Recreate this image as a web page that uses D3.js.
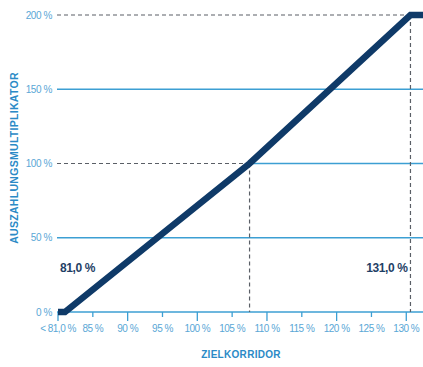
<!DOCTYPE html>
<html>
<head>
<meta charset="utf-8">
<script src="https://cdn.jsdelivr.net/npm/d3@7"></script>
<style>
body { margin: 0; background: #fff; }
svg text { font-family: "Liberation Sans", Arial, sans-serif; }
</style>
</head>
<body>
<div id="chart"></div>
<script>
// Zielkorridor (x) and Auszahlungsmultiplikator (y), knot points of the curve
var xVals = [80, 81, 107.5, 130.6, 133];
var yVals = [0, 0, 100, 200, 200];
var yTicks = [0, 50, 100, 150, 200];
var xTicks = [80, 85, 90, 95, 100, 105, 110, 115, 120, 125, 130];
var xTickLabels = ["< 81,0 %", "85 %", "90 %", "95 %", "100 %", "105 %", "110 %", "115 %", "120 %", "125 %", "130 %"];
var marks = [{x: 81, label: "81,0 %"}, {x: 130.6, label: "131,0 %"}];

var width = 423, height = 367;
var margin = {top: 15, right: 0, bottom: 55, left: 57};
var Chartwidth = width - margin.left - margin.right,
	Chartheight = height - margin.top - margin.bottom;

var blue = "#3c9fd3", navy = "#0f3a68", dash = "#5a5f66";

var svg = d3.select("#chart").append("svg")
	.attr("width", width)
	.attr("height", height);

var x = d3.scaleLinear().domain([80, 132.4]).range([1, Chartwidth]);
var y = d3.scaleLinear().domain([0, 200]).range([Chartheight, 0]);

var g = svg.append("g")
	.attr("transform", "translate(" + margin.left + "," + margin.top + ")");

var pts = xVals.map(function(d, i) { return {x: d, y: yVals[i]}; });
var knee = pts[2], peak = pts[3];

// horizontal grid lines
yTicks.forEach(function(t) {
	if (t === 100) {
		g.append("line").attr("x1", 0).attr("x2", x(knee.x)).attr("y1", y(t)).attr("y2", y(t))
			.attr("stroke", dash).attr("stroke-width", 1.2).attr("stroke-dasharray", "4,3");
		g.append("line").attr("x1", x(knee.x)).attr("x2", Chartwidth).attr("y1", y(t)).attr("y2", y(t))
			.attr("stroke", blue).attr("stroke-width", 1.3);
	} else if (t === 200) {
		g.append("line").attr("x1", 0).attr("x2", x(peak.x)).attr("y1", y(t)).attr("y2", y(t))
			.attr("stroke", dash).attr("stroke-width", 1.2).attr("stroke-dasharray", "4,3");
	} else {
		g.append("line").attr("x1", 0).attr("x2", Chartwidth).attr("y1", y(t)).attr("y2", y(t))
			.attr("stroke", blue).attr("stroke-width", t === 0 ? 1.5 : 1.3);
	}
});

// vertical dashed lines
[knee, peak].forEach(function(p) {
	g.append("line").attr("x1", x(p.x)).attr("x2", x(p.x)).attr("y1", y(p.y)).attr("y2", y(0))
		.attr("stroke", dash).attr("stroke-width", 1.2).attr("stroke-dasharray", "4,3");
});

// y tick labels
g.selectAll(".ylab").data(yTicks).enter().append("text")
	.attr("x", -5).attr("y", function(d) { return y(d); })
	.attr("dy", "0.35em").attr("text-anchor", "end")
	.attr("font-size", 10).attr("letter-spacing", -0.4)
	.attr("fill", "#5aa7d6")
	.text(function(d) { return d + " %"; });

// x ticks
g.selectAll(".xtick").data(xTicks).enter().append("line")
	.attr("x1", function(d) { return x(d); }).attr("x2", function(d) { return x(d); })
	.attr("y1", y(0)).attr("y2", function(d, i) { return y(0) + (i % 2 === 0 ? 9 : 5); })
	.attr("stroke", blue).attr("stroke-width", 1.3);

g.selectAll(".xlab").data(xTicks).enter().append("text")
	.attr("x", function(d) { return x(d); }).attr("y", y(0) + 20)
	.attr("text-anchor", "middle")
	.attr("font-size", 10).attr("letter-spacing", -0.5)
	.attr("fill", "#5aa7d6")
	.text(function(d, i) { return xTickLabels[i]; });

// curve
g.append("path")
	.datum(pts)
	.attr("fill", "none")
	.attr("stroke", navy)
	.attr("stroke-width", 6.5)
	.attr("stroke-linejoin", "miter")
	.attr("d", d3.line().x(function(d) { return x(d.x); }).y(function(d) { return y(d.y); }));

// annotations
g.append("text").attr("x", x(marks[0].x) - 5).attr("y", y(27))
	.attr("font-size", 12).attr("font-weight", "bold").attr("letter-spacing", -0.4)
	.attr("fill", "#1f3f66").text(marks[0].label);
g.append("text").attr("x", x(marks[1].x) - 3).attr("y", y(27))
	.attr("text-anchor", "end")
	.attr("font-size", 12).attr("font-weight", "bold").attr("letter-spacing", -0.4)
	.attr("fill", "#1f3f66").text(marks[1].label);

// axis titles
svg.append("text")
	.attr("transform", "translate(18," + (margin.top + 143) + ") rotate(-90)")
	.attr("text-anchor", "middle")
	.attr("font-size", 10.5).attr("font-weight", "bold").attr("letter-spacing", 0.3)
	.attr("fill", "#2b8ac6").text("AUSZAHLUNGSMULTIPLIKATOR");

svg.append("text")
	.attr("x", 241).attr("y", 358)
	.attr("text-anchor", "middle")
	.attr("font-size", 10).attr("font-weight", "bold").attr("letter-spacing", 0.3)
	.attr("fill", "#2b8ac6").text("ZIELKORRIDOR");
</script>
</body>
</html>
